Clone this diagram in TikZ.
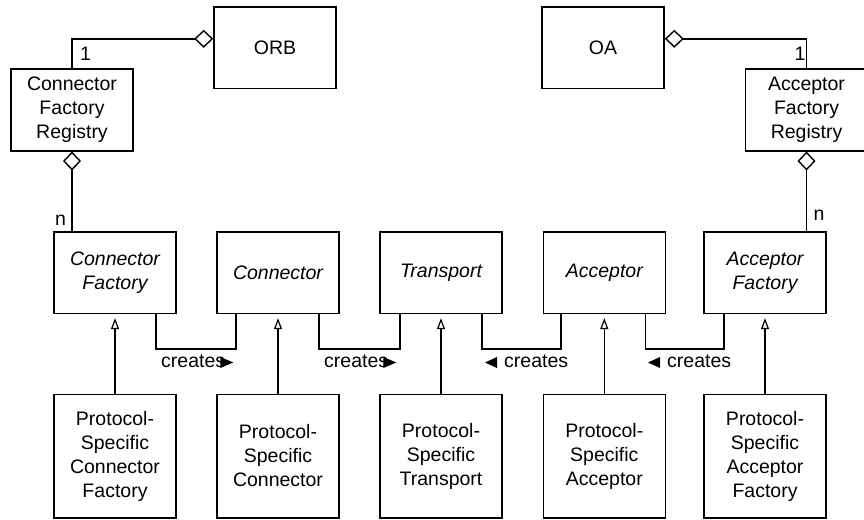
\documentclass[tikz,border=0pt]{standalone}
\usepackage{fontspec}
\setmainfont{Liberation Sans}
\usetikzlibrary{arrows.meta}
\begin{document}
\begin{tikzpicture}[x=1pt,y=-1pt,
  txt/.style={font=\fontsize{19.5}{24}\selectfont},
  box/.style={txt,draw,line width=1.6pt,minimum width=122pt,inner sep=0pt,align=center},
  topbox/.style={box,minimum height=81.5pt},
  midbox/.style={box,minimum height=81.3pt,font=\fontsize{19.5}{24}\selectfont\itshape},
  botbox/.style={box,minimum height=123.4pt},
  lbl/.style={txt,inner sep=0pt},
  wire/.style={line width=1.6pt},
  agg/.style={wire,{Diamond[open,length=19pt,width=18pt,line width=1.4pt]}-},
  inh/.style={wire,-{Triangle[open,length=11pt,width=8pt,line width=1.2pt]},shorten >=4pt},
  tri/.style={fill=black}
]
\useasboundingbox (0,0) rectangle (864,519);

% top nodes
\node[topbox] (orb) at (275,47.8) {ORB};
\node[topbox] (oa) at (603,47.8) {OA};
\node[topbox] (cfr) at (72,110) {Connector\\Factory\\Registry};
\node[topbox] (afr) at (806.5,110) {Acceptor\\Factory\\Registry};

% middle row (abstract)
\node[midbox] (cf)  at (115,272.7)   {Connector\\Factory};
\node[midbox] (con) at (278,272.7)   {Connector};
\node[midbox] (tr)  at (441,272.7)   {Transport};
\node[midbox] (acc) at (604.3,272.7) {Acceptor};
\node[midbox] (af)  at (765,272.7)   {Acceptor\\Factory};

% bottom row (concrete)
\node[botbox] (pcf)  at (115,456)   {Protocol-\\Specific\\Connector\\Factory};
\node[botbox] (pcon) at (278,456)   {Protocol-\\Specific\\Connector};
\node[botbox] (ptr)  at (441,456)   {Protocol-\\Specific\\Transport};
\node[botbox] (pacc) at (604.3,456) {Protocol-\\Specific\\Acceptor};
\node[botbox] (paf)  at (765,456)   {Protocol-\\Specific\\Acceptor\\Factory};

% aggregations
\draw[agg] ([yshift=9pt]orb.west) -| (cfr.north);
\draw[agg] (cfr.south) -- (cfr.south |- cf.north);
\draw[agg] ([yshift=9pt]oa.east) -| (afr.north);
\draw[agg] (afr.south) -- (afr.south |- af.north);

\node[lbl,anchor=base] (one1) at (85.5,60) {1};
\node[lbl,anchor=base] (one2) at (800,60) {1};
\node[lbl,anchor=base] (n1) at (60.5,225) {n};
\node[lbl,anchor=base] (n2) at (819,220) {n};

% inheritance
\draw[inh] (pcf.north) -- (cf.south);
\draw[inh] (pcon.north) -- (con.south);
\draw[inh] (ptr.north) -- (tr.south);
\draw[inh] (pacc.north) -- (acc.south);
\draw[inh] (paf.north) -- (af.south);

% creates connectors
\draw[wire] ([xshift=41pt]cf.south) -- ++(0,35) -| ([xshift=-42pt]con.south);
\draw[wire] ([xshift=41pt]con.south) -- ++(0,35) -| ([xshift=-41pt]tr.south);
\draw[wire] ([xshift=41pt]tr.south) -- ++(0,35) -| ([xshift=-43.5pt]acc.south);
\draw[wire] ([xshift=41pt]acc.south) -- ++(0,35) -| ([xshift=-41pt]af.south);

% creates labels
\node[lbl,anchor=base west] (c1) at (161,367) {creates};
\fill[tri] ([shift={(-5,-10)}]c1.base east) -- ++(13,5.5) -- ++(-13,5.5) -- cycle;
\node[lbl,anchor=base west] (c2) at (324,367) {creates};
\fill[tri] ([shift={(-5,-10)}]c2.base east) -- ++(13,5.5) -- ++(-13,5.5) -- cycle;
\node[lbl,anchor=base west] (c3) at (504,367) {creates};
\fill[tri] ([shift={(-7,-10)}]c3.base west) -- ++(-12,5.5) -- ++(12,5.5) -- cycle;
\node[lbl,anchor=base west] (c4) at (667,367) {creates};
\fill[tri] ([shift={(-7,-10)}]c4.base west) -- ++(-12,5.5) -- ++(12,5.5) -- cycle;
\end{tikzpicture}
\end{document}
